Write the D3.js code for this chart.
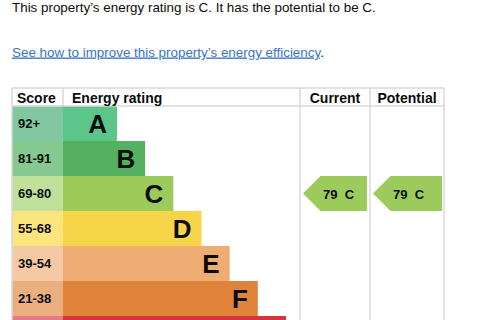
<!DOCTYPE html>
<html>
<head>
<meta charset="utf-8">
<script src="https://cdn.jsdelivr.net/npm/d3@7"></script>
<style>
  html, body { margin: 0; padding: 0; background: #fff; overflow: hidden; width: 480px; height: 320px; }
  svg { display: block; }
  svg text { font-family: "Liberation Sans", Arial, Helvetica, sans-serif; }
</style>
</head>
<body>
<div id="chart"></div>
<script>
// ---- data ----
const ratings = ["A", "B", "C", "D", "E", "F", "G"];
const scoreRanges = ["92+", "81-91", "69-80", "55-68", "39-54", "21-38", "1-20"];
const barLengths = [1, 2, 3, 4, 5, 6, 7];   // relative bar length rank
const barColors = ["#5cc68a", "#55b062", "#9dcb5b", "#f8d548", "#eeab72", "#e0843c", "#d8333f"];
const scoreColors = ["#80c7a2", "#85c990", "#bfe098", "#fbe57c", "#f5c9a3", "#ebae7e", "#e57a84"];
const columns = ["Score", "Energy rating", "Current", "Potential"];
const currentScore = 79, currentBand = "C";
const potentialScore = 79, potentialBand = "C";
const headline = "This property\u2019s energy rating is C. It has the potential to be C.";
const linkText = "See how to improve this property\u2019s energy efficiency";

// ---- layout ----
const W = 480, H = 320;
const svg = d3.select("#chart").append("svg").attr("width", W).attr("height", H);

const tableLeft = 12, tableTop = 88, headerH = 18, rowH = 35;
const scoreRight = 63, ratingRight = 300, currentRight = 370, potentialRight = 444;

const y = d3.scaleBand().domain(ratings).range([tableTop + headerH, tableTop + headerH + rowH * ratings.length]).padding(0);
const x = d3.scaleLinear().domain([1, 7]).range([54, 223]);

// Only label rows whose text falls inside the visible picture (the last row is cut off)
const visible = ratings.filter(d => y(d) + y.bandwidth() / 2 + 10 <= H);

// Headline
svg.append("text").attr("x", 12).attr("y", 11.5)
  .attr("font-size", "13.4px").attr("fill", "#0b0c0c").text(headline);

// Link
const link = svg.append("text").attr("x", 12).attr("y", 56.5).attr("font-size", "13.4px");
link.append("tspan").attr("fill", "#3b73c5").attr("text-decoration", "underline").text(linkText);
link.append("tspan").attr("fill", "#0b0c0c").text(".");

// Score cells and bars
const rows = svg.append("g");
rows.selectAll("rect.score").data(ratings).join("rect")
  .attr("class", "score")
  .attr("x", tableLeft).attr("y", d => y(d))
  .attr("width", scoreRight - tableLeft).attr("height", y.bandwidth())
  .attr("fill", (d, i) => scoreColors[i]);

rows.selectAll("rect.bar").data(ratings).join("rect")
  .attr("class", "bar")
  .attr("x", scoreRight).attr("y", d => y(d))
  .attr("width", (d, i) => x(barLengths[i])).attr("height", y.bandwidth())
  .attr("fill", (d, i) => barColors[i]);

rows.selectAll("text.range").data(visible).join("text")
  .attr("class", "range")
  .attr("x", 18).attr("y", d => y(d) + y.bandwidth() / 2 + 4.5)
  .attr("font-size", "13px").attr("font-weight", "bold").attr("fill", "#0b0c0c")
  .text(d => scoreRanges[ratings.indexOf(d)]);

rows.selectAll("text.letter").data(visible).join("text")
  .attr("class", "letter")
  .attr("x", d => scoreRight + x(barLengths[ratings.indexOf(d)]) - 10)
  .attr("y", d => y(d) + y.bandwidth() / 2 + 9.5)
  .attr("text-anchor", "end")
  .attr("font-size", "26px").attr("font-weight", "bold").attr("fill", "#0b0c0c")
  .text(d => d);

// Grid lines
const grid = svg.append("g").attr("stroke", "#d9d9d9").attr("stroke-width", 1.5).attr("fill", "none");
const bottom = y.range()[1];
grid.append("line").attr("x1", tableLeft).attr("x2", potentialRight).attr("y1", tableTop).attr("y2", tableTop);
grid.append("line").attr("x1", tableLeft).attr("x2", potentialRight).attr("y1", tableTop + headerH).attr("y2", tableTop + headerH);
grid.append("line").attr("x1", tableLeft).attr("x2", tableLeft).attr("y1", tableTop).attr("y2", bottom);
grid.append("line").attr("x1", scoreRight).attr("x2", scoreRight).attr("y1", tableTop).attr("y2", tableTop + headerH);
[ratingRight, currentRight, potentialRight].forEach(cx => {
  grid.append("line").attr("x1", cx).attr("x2", cx).attr("y1", tableTop).attr("y2", bottom);
});

// Headers
const hdr = svg.append("g").attr("font-size", "14px").attr("font-weight", "bold").attr("fill", "#0b0c0c");
const headerPos = [
  { x: 17, anchor: "start" },
  { x: 72, anchor: "start" },
  { x: (ratingRight + currentRight) / 2, anchor: "middle" },
  { x: (currentRight + potentialRight) / 2, anchor: "middle" }
];
hdr.selectAll("text").data(columns).join("text")
  .attr("x", (d, i) => headerPos[i].x).attr("y", tableTop + 15)
  .attr("text-anchor", (d, i) => headerPos[i].anchor)
  .text(d => d);

// Arrows
const arrows = [
  { score: currentScore, band: currentBand, x0: ratingRight + 3, x1: currentRight - 3 },
  { score: potentialScore, band: potentialBand, x0: currentRight + 3, x1: potentialRight - 2 }
];
const ag = svg.append("g");
arrows.forEach(a => {
  const i = ratings.indexOf(a.band);
  const top = y(a.band), h = y.bandwidth(), mid = top + h / 2;
  const head = h / 2;
  ag.append("path")
    .attr("d", `M${a.x0},${mid} L${a.x0 + head},${top} L${a.x1},${top} L${a.x1},${top + h} L${a.x0 + head},${top + h} Z`)
    .attr("fill", barColors[i]);
  ag.append("text")
    .attr("x", a.x0 + 20).attr("y", mid + 5)
    .attr("font-size", "13px").attr("font-weight", "bold").attr("fill", "#0b0c0c")
    .style("white-space", "pre")
    .text(`${a.score}  ${a.band}`);
});
</script>
</body>
</html>
